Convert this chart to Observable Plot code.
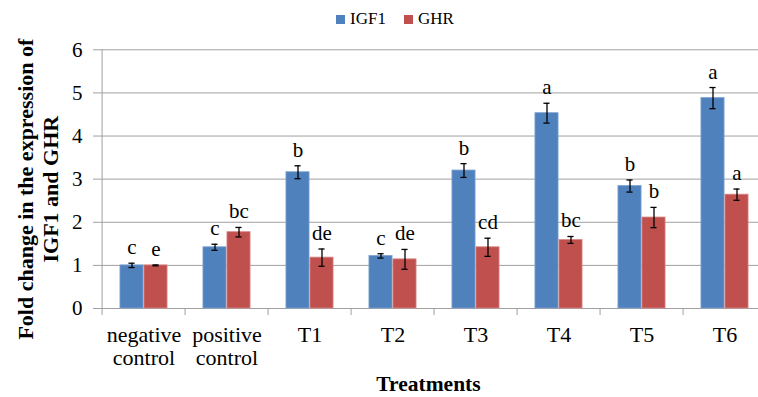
<!DOCTYPE html>
<html>
<head>
<meta charset="utf-8">
<script src="https://cdn.jsdelivr.net/npm/d3@7"></script>
<script src="https://cdn.jsdelivr.net/npm/@observablehq/plot@0.6"></script>
<style>
  html, body { margin: 0; padding: 0; background: white; }
  #legend { height: 22px; padding-top: 8px; display: flex; align-items: center; margin-left: 336px;
            font-family: "Liberation Serif", serif; font-size: 17px; color: black; }
  .sw { width: 9px; height: 9px; display: inline-block; margin-right: 5px; }
  .item { display: flex; align-items: center; margin-right: 18px; }
  #chart svg, #chart svg text { font-family: "Liberation Serif", serif !important; }
</style>
</head>
<body>
<div id="legend"></div>
<div id="chart"></div>
<script>
const categories = ["negative\ncontrol", "positive\ncontrol", "T1", "T2", "T3", "T4", "T5", "T6"];
const seriesNames = ["IGF1", "GHR"];
const igf1 = [1.00, 1.42, 3.16, 1.22, 3.20, 4.53, 2.84, 4.88];
const igf1Err = [0.05, 0.07, 0.15, 0.05, 0.16, 0.23, 0.14, 0.245];
const igf1Letters = ["c", "c", "b", "c", "b", "a", "b", "a"];
const ghr = [1.00, 1.77, 1.18, 1.14, 1.42, 1.59, 2.11, 2.64];
const ghrErr = [0.01, 0.11, 0.20, 0.23, 0.21, 0.08, 0.235, 0.13];
const ghrLetters = ["e", "bc", "de", "de", "cd", "bc", "b", "a"];
const yTicks = [0, 1, 2, 3, 4, 5, 6];
const yTitleLines = ["Fold change in the expression of", "IGF1 and GHR"];
const xTitle = "Treatments";
const colors = ["#4F81BD", "#C0504D"];

const legend = document.getElementById("legend");
seriesNames.forEach((s, i) => {
  const it = document.createElement("div");
  it.className = "item";
  it.innerHTML = `<span class="sw" style="background:${colors[i]}"></span><span>${s}</span>`;
  legend.appendChild(it);
});

const mk = (vals, errs, letters) => categories.map((c, i) => ({
  cat: c, value: vals[i], lo: vals[i] - errs[i], hi: vals[i] + errs[i], letter: letters[i]
}));
const igfRows = mk(igf1, igf1Err, igf1Letters);
const ghrRows = mk(ghr, ghrErr, ghrLetters);

const W = 758, H = 367;
const mL = 98, mT = 19.3, mB = 89;
const xR = 769;
const bw = (xR - mL) / categories.length;
const barW = 24, cap = 3.5;
const grey = "#a0a0a0";
const serif = "Liberation Serif";

const chart = Plot.plot({
  width: W, height: H,
  marginLeft: mL, marginRight: 0, marginTop: mT, marginBottom: mB,
  style: { fontFamily: serif, fontSize: "21px", color: "black", background: "white", overflow: "hidden" },
  x: { type: "band", domain: categories, range: [mL, xR], padding: 0 },
  y: { domain: [0, 6] },
  marks: [
    Plot.ruleY(yTicks, { stroke: grey, strokeWidth: 1 }),
    Plot.ruleX([categories[0]], { dx: -bw / 2, y1: 0, y2: 6, stroke: grey }),
    Plot.ruleX(categories, { x: d => d, dx: -bw / 2, y1: 0, y2: 0, insetBottom: -7, stroke: grey }),
    Plot.barY(igfRows, { x: "cat", y: "value", fill: colors[0], stroke: "#7fa3d3", strokeWidth: 0.8, insetLeft: bw / 2 - barW, insetRight: bw / 2 }),
    Plot.barY(ghrRows, { x: "cat", y: "value", fill: colors[1], stroke: "#d98a88", strokeWidth: 0.8, insetLeft: bw / 2, insetRight: bw / 2 - barW }),
    Plot.ruleX(igfRows, { x: "cat", y1: "lo", y2: "hi", dx: -barW / 2, stroke: "black", strokeWidth: 1.3 }),
    Plot.ruleX(ghrRows, { x: "cat", y1: "lo", y2: "hi", dx: barW / 2, stroke: "black", strokeWidth: 1.3 }),
    Plot.tickY(igfRows, { x: "cat", y: "hi", insetLeft: bw / 2 - barW / 2 - cap, insetRight: bw / 2 + barW / 2 - cap, stroke: "black", strokeWidth: 1.3 }),
    Plot.tickY(igfRows, { x: "cat", y: "lo", insetLeft: bw / 2 - barW / 2 - cap, insetRight: bw / 2 + barW / 2 - cap, stroke: "black", strokeWidth: 1.3 }),
    Plot.tickY(ghrRows, { x: "cat", y: "hi", insetLeft: bw / 2 + barW / 2 - cap, insetRight: bw / 2 - barW / 2 - cap, stroke: "black", strokeWidth: 1.3 }),
    Plot.tickY(ghrRows, { x: "cat", y: "lo", insetLeft: bw / 2 + barW / 2 - cap, insetRight: bw / 2 - barW / 2 - cap, stroke: "black", strokeWidth: 1.3 }),
    Plot.text(igfRows, { x: "cat", y: "hi", text: "letter", dx: -barW / 2, dy: -9, lineAnchor: "bottom", fontSize: 21, fontFamily: serif, fill: "black" }),
    Plot.text(ghrRows, { x: "cat", y: "hi", text: "letter", dx: barW / 2, dy: -9, lineAnchor: "bottom", fontSize: 21, fontFamily: serif, fill: "black" }),
    Plot.axisX({ tickSize: 0, tickPadding: 17, fontSize: 22, lineHeight: 1.06, fontFamily: serif, label: null, fill: "black" }),
    Plot.axisY({ ticks: yTicks, tickFormat: d3.format("d"), tickSize: 5, tickPadding: 11, fontSize: 21, fontFamily: serif, label: null, stroke: grey, fill: "black" }),
    Plot.text([yTitleLines[0]], { text: d => d, frameAnchor: "left", rotate: -90, dx: -73, dy: 10, textAnchor: "middle", lineAnchor: "middle", fontWeight: "bold", fontSize: 22, fontFamily: serif, fill: "black" }),
    Plot.text([yTitleLines[1]], { text: d => d, frameAnchor: "left", rotate: -90, dx: -48, dy: 10, textAnchor: "middle", lineAnchor: "middle", fontWeight: "bold", fontSize: 22, fontFamily: serif, fill: "black" }),
    Plot.text([xTitle], { text: d => d, frameAnchor: "bottom", dy: 67, lineAnchor: "top", fontWeight: "bold", fontSize: 21.5, fontFamily: serif, fill: "black" })
  ]
});
document.getElementById("chart").appendChild(chart);
</script>
</body>
</html>
